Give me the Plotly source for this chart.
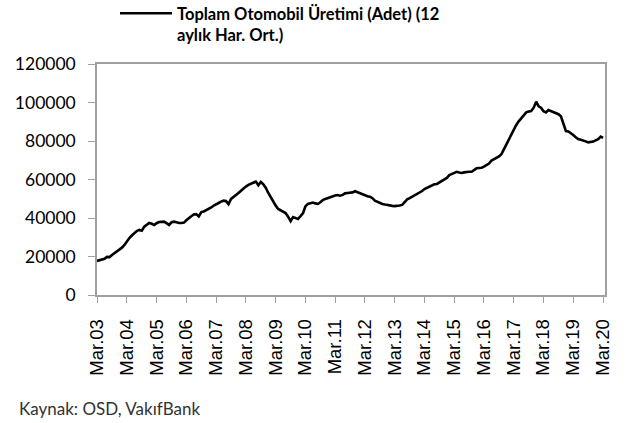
import plotly.graph_objects as go
import pandas as pd

# Monthly 12-month moving average of total car production, Mar 2003 - Mar 2020
production = [
    17700, 18000, 18300, 18800, 19800, 19700, 20800, 21800, 22500, 23400, 24600, 26000,
    27800, 29600, 30900, 32200, 33200, 33800, 33400, 35500, 36300, 37400, 37000, 36400,
    37300, 37900, 38000, 38100, 37300, 36400, 37800, 38100, 37800, 37400, 37400, 37600,
    38800, 40000, 40900, 41800, 42000, 40800, 43100, 43400, 44000, 44700, 45500, 46500,
    47300, 47800, 48500, 49000, 48800, 47200, 49900, 50800, 52000, 53000, 54200, 55500,
    56300, 57200, 57900, 58500, 58900, 57000, 58700, 57500, 55600, 53000, 50500, 48500,
    46500, 44700, 44000, 43300, 42600, 40700, 38400, 40500, 40000, 39500, 41000, 42600,
    46000, 47300, 47700, 48000, 47600, 47300, 48200, 49300, 49900, 50400, 50900, 51300,
    51700, 51900, 51600, 52000, 52800, 53000, 53100, 53300, 53900, 53400, 52500, 52000,
    51500, 51300, 51100, 50300, 49000, 48300, 47800, 47300, 47000, 46700, 46500, 46300,
    46200, 46200, 46500, 46800, 48200, 49700, 50300, 51000, 51700, 52400, 53200, 54000,
    55000, 55600, 56300, 57100, 57500, 57700, 58400, 59000, 59700, 60800, 62300, 63000,
    63600, 64000, 63600, 63400, 63700, 64000, 64000, 64000, 64900, 65800, 66000, 66100,
    66700, 67300, 68300, 69800, 70500, 71200, 72000, 73200, 75800, 78800, 81200, 83600,
    86000, 88300, 90200, 91800, 93500, 94900, 95300, 95600, 97300, 100400, 98000, 97200,
    95500, 94800, 96100, 95500, 94900, 94400, 93900, 92800, 89000, 85200, 85000, 84200,
    83100, 82000, 81000, 80600, 80400, 79800, 79300, 79400, 79700, 80300, 80900, 82300,
    81600,
]
dates = pd.date_range("2003-03-01", periods=len(production), freq="MS")

tick_years = list(range(2003, 2021))
tick_vals = [f"{y}-03-01" for y in tick_years]
tick_text = [f"Mar.{y % 100:02d}" for y in tick_years]

series_name = "Toplam Otomobil Üretimi (Adet) (12<br>aylık Har. Ort.)"
source_text = "Kaynak: OSD, VakıfBank"

axis_grey = "#a0a0a0"
plot_w, plot_h = 508, 231
left, top = 97, 64

fig = go.Figure()
fig.add_trace(go.Scatter(
    x=dates, y=production, mode="lines", name=series_name,
    line=dict(color="black", width=2.6),
))

fig.update_layout(
    width=644, height=423,
    margin=dict(l=left, r=644 - left - plot_w, t=top, b=423 - top - plot_h,
                autoexpand=False),
    paper_bgcolor="white", plot_bgcolor="white",
    showlegend=True,
    legend=dict(
        xref="paper", yref="paper",
        x=(115 - left) / plot_w, y=1 + (top + 4) / plot_h,
        xanchor="left", yanchor="top",
        valign="top",
        font=dict(family="Lato", size=16.5, color="black", weight="bold"),
        bgcolor="rgba(0,0,0,0)", itemwidth=52,
    ),
    xaxis=dict(
        range=["2003-03-01", "2020-03-25"],
        tickmode="array", tickvals=tick_vals, ticktext=tick_text,
        tickangle=-90,
        showline=True, linecolor=axis_grey, linewidth=1.5, mirror=True,
        ticks="outside", ticklen=6, tickcolor=axis_grey, tickwidth=1,
        showgrid=False, zeroline=False,
        tickfont=dict(family="Liberation Sans", size=18.5, color="black"),
        ticklabelstandoff=9,
    ),
    yaxis=dict(
        range=[0, 120000], dtick=20000, tickformat="d",
        showline=True, linecolor=axis_grey, linewidth=1.5, mirror=True,
        ticks="outside", ticklen=7, tickcolor=axis_grey, tickwidth=1,
        showgrid=False, zeroline=False,
        tickfont=dict(family="Lato", size=17.5, color="black"),
        ticklabelstandoff=9,
    ),
    annotations=[dict(
        text=source_text, xref="paper", yref="paper",
        x=(17 - left) / plot_w, y=(top + plot_h - 396) / plot_h,
        xanchor="left", yanchor="top",
        showarrow=False,
        font=dict(family="Lato", size=17, color="#333333"),
    )],
)

fig.write_html("out.html", config={"displayModeBar": False},
               post_script="document.body.style.margin='0';")
